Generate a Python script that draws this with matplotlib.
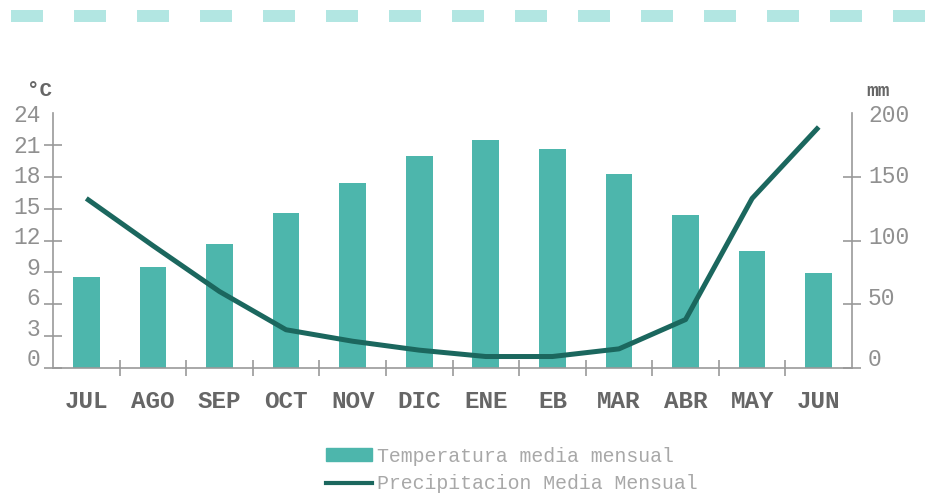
import matplotlib.pyplot as plt
import numpy as np
from matplotlib.lines import Line2D
from matplotlib.patches import Rectangle
from matplotlib.ticker import FixedLocator, FixedFormatter

months = ["JUL", "AGO", "SEP", "OCT", "NOV", "DIC", "ENE", "EB", "MAR", "ABR", "MAY", "JUN"]
temperature = [8.6, 9.5, 11.7, 14.6, 17.4, 20.0, 21.5, 20.6, 18.3, 14.4, 11.0, 8.9]
precipitation = [133, 96, 60, 30, 21, 14, 9, 9, 15, 38, 133, 189]
temp_ticks = [0, 3, 6, 9, 12, 15, 18, 21, 24]
prec_ticks = [0, 50, 100, 150, 200]

BAR_COLOR = "#4db6ac"
LINE_COLOR = "#1b675e"
AXIS_COLOR = "#999999"
MONO = "Liberation Mono"

W, H = 930, 495
fig = plt.figure(figsize=(W / 100, H / 100), dpi=100)

# decorative dashed band on top
for i in range(15):
    x0 = 11 + 63 * i
    fig.add_artist(Rectangle((x0 / W, 1 - 22 / H), 32 / W, 12 / H,
                             transform=fig.transFigure, color="#b2e6e2", lw=0))

ax = fig.add_axes([53 / W, 1 - 368 / H, (852 - 53) / W, (368 - 113) / H])
ax2 = ax.twinx()

x = np.arange(len(months))
ax.bar(x, temperature, width=0.4, color=BAR_COLOR, zorder=2)
ax2.plot(x, precipitation, color=LINE_COLOR, lw=3.6, solid_capstyle="butt", zorder=3)

ax.set_xlim(-0.5, len(months) - 0.5)
ax.set_ylim(0, 24)
ax2.set_ylim(0, 200)
ax.set_zorder(ax2.get_zorder() - 1)
ax.patch.set_visible(False)

for a in (ax, ax2):
    a.spines["top"].set_visible(False)
    for s in ("left", "right", "bottom"):
        a.spines[s].set_color(AXIS_COLOR)
        a.spines[s].set_linewidth(1.2)
ax.spines["right"].set_visible(False)
ax2.spines["left"].set_visible(False)
ax2.spines["bottom"].set_visible(False)

# x axis: labels at centres, marks between categories
ax.xaxis.set_major_locator(FixedLocator(x))
ax.xaxis.set_major_formatter(FixedFormatter(months))
ax.xaxis.set_minor_locator(FixedLocator(x[:-1] + 0.5))
ax.tick_params(axis="x", which="major", length=0, pad=16)
ax.tick_params(axis="x", which="minor", direction="inout", length=12, width=1.2, color=AXIS_COLOR)
for lab in ax.get_xticklabels():
    lab.set_fontfamily(MONO)
    lab.set_fontweight("bold")
    lab.set_fontsize(17.5)
    lab.set_color("#666666")

# y axes: labels sit on a slightly compressed scale, marks on the true values
def set_y_ticks(a, ticks, top, side):
    a.yaxis.set_minor_locator(FixedLocator(ticks))
    a.yaxis.set_major_locator(FixedLocator([top - (top - t) * 0.957 for t in ticks]))
    a.yaxis.set_major_formatter(FixedFormatter([str(t) for t in ticks]))
    a.tick_params(axis="y", which="major", length=0, pad=9 if side == "left" else 11.5,
                  labelsize=16.5, labelcolor="#909090")
    a.tick_params(axis="y", which="minor", direction="inout", length=13, width=1.2, color=AXIS_COLOR)
    for lab in a.get_yticklabels():
        lab.set_fontfamily(MONO)

set_y_ticks(ax, temp_ticks, 24, "left")
set_y_ticks(ax2, prec_ticks, 200, "right")

fig.text(39 / W, 1 - 90 / H, "°C", ha="center", va="center", fontsize=15,
         fontfamily=MONO, fontweight="bold", color="#666666")
fig.text(878 / W, 1 - 91 / H, "mm", ha="center", va="center", fontsize=14,
         fontfamily=MONO, fontweight="bold", color="#666666")

handles = [Rectangle((0, 0), 1, 1, color=BAR_COLOR),
           Line2D([0], [0], color=LINE_COLOR, lw=3)]
leg = fig.legend(handles, ["Temperatura media mensual", "Precipitacion Media Mensual"],
                 loc="center left", bbox_to_anchor=(326 / W, 1 - 470 / H), frameon=False,
                 prop={"family": MONO, "size": 14.3}, handlelength=2.3, handleheight=0.6,
                 handletextpad=0.25, labelspacing=0.45, borderpad=0, borderaxespad=0)
for t in leg.get_texts():
    t.set_color("#a8a8a8")

fig.savefig("out.png", dpi=100)
